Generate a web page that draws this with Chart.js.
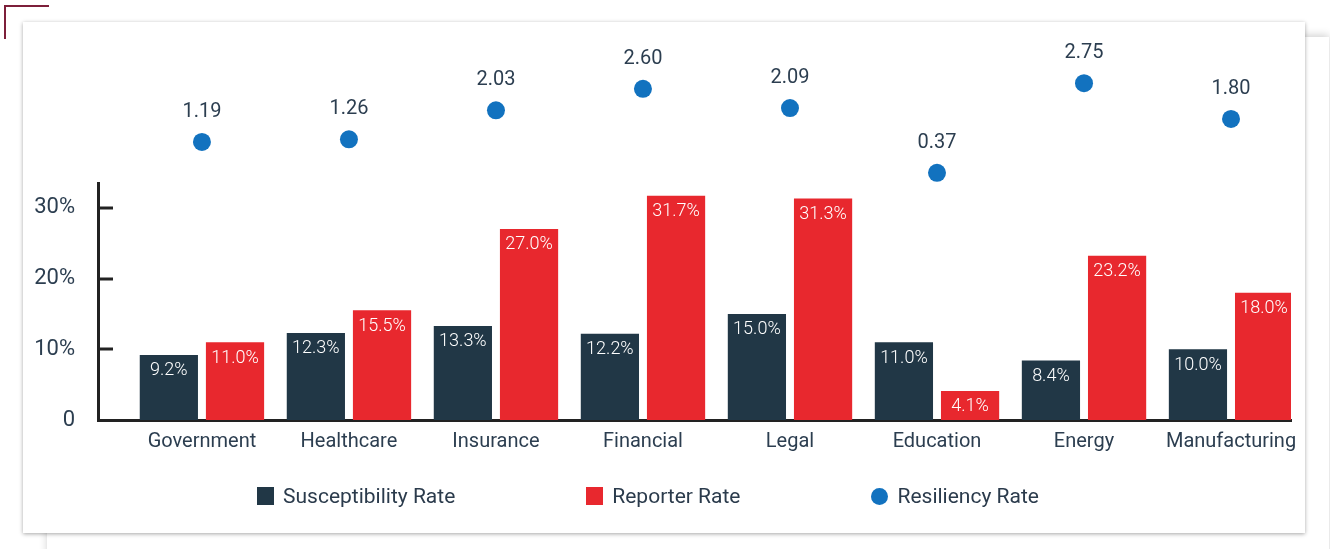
<!DOCTYPE html>
<html>
<head>
<meta charset="utf-8">
<script src="https://cdn.jsdelivr.net/npm/chart.js@4"></script>
<style>
  body { margin: 0; background: #fff; width: 1330px; height: 549px; overflow: hidden; position: relative; font-family: Roboto, sans-serif; }
  .corner { position: absolute; left: 4px; top: 5px; width: 43px; height: 32px; border-top: 2px solid #7d1f3a; border-left: 2px solid #7d1f3a; }
  .back { position: absolute; left: 47px; top: 37px; width: 1282px; height: 560px; background: #fff; box-shadow: 0 -2px 8px rgba(0,0,0,0.18); }
  .card { position: absolute; left: 23px; top: 22px; width: 1282px; height: 511px; background: #fff; box-shadow: 0 1px 4px rgba(0,0,0,0.35); }
  .card canvas { position: absolute; left: 0; top: 0; }
  #legend { position: absolute; left: 234px; top: 462px; display: flex; align-items: center; gap: 131px; color: #2b3b4c; font-size: 21px; }
  #legend .item { display: flex; align-items: center; }
  #legend .mark { width: 17px; height: 18px; margin-right: 9px; }
</style>
</head>
<body>
<div class="corner"></div>
<div class="back"></div>
<div class="card">
  <canvas id="chart" width="1282" height="511"></canvas>
  <div id="legend"></div>
</div>
<script>
// ---------- data ----------
const categories = ['Government', 'Healthcare', 'Insurance', 'Financial', 'Legal', 'Education', 'Energy', 'Manufacturing'];
const susceptibility = [9.2, 12.3, 13.3, 12.2, 15.0, 11.0, 8.4, 10.0];
const reporter = [11.0, 15.5, 27.0, 31.7, 31.3, 4.1, 23.2, 18.0];
const resiliency = [1.19, 1.26, 2.03, 2.60, 2.09, 0.37, 2.75, 1.80];
const yTicks = [0, 10, 20, 30];

const TEXT = '#2c3e50';
const AXIS = '#222';

const toPoints = arr => arr.map((v, i) => ({ x: i, y: v }));

// value labels on bars and dots
const valueLabels = {
  id: 'valueLabels',
  afterDatasetsDraw(chart) {
    const ctx = chart.ctx;
    ctx.save();
    ctx.textAlign = 'center';
    ctx.textBaseline = 'middle';
    chart.data.datasets.forEach((ds, di) => {
      const meta = chart.getDatasetMeta(di);
      meta.data.forEach((el, i) => {
        const v = ds.data[i].y;
        if (ds.type === 'line') {
          ctx.font = '20px Roboto';
          ctx.fillStyle = TEXT;
          ctx.fillText(v.toFixed(2), el.x, el.y - 30);
        } else {
          ctx.font = '300 18px Roboto';
          ctx.fillStyle = '#fff';
          ctx.fillText(v.toFixed(1) + '%', el.x, el.y + 16);
        }
      });
    });
    ctx.restore();
  }
};

// short tick marks pointing into the plot
const innerTicks = {
  id: 'innerTicks',
  afterDraw(chart) {
    const y = chart.scales.y;
    const ctx = chart.ctx;
    ctx.save();
    ctx.strokeStyle = AXIS;
    ctx.lineWidth = 3;
    y.ticks.forEach(t => {
      if (t.value === 0) return;
      const py = Math.round(y.getPixelForValue(t.value));
      ctx.beginPath();
      ctx.moveTo(y.right, py);
      ctx.lineTo(y.right + 15, py);
      ctx.stroke();
    });
    ctx.restore();
  }
};

const chart = new Chart(document.getElementById('chart'), {
  type: 'bar',
  data: {
    datasets: [
      {
        label: 'Susceptibility Rate',
        data: toPoints(susceptibility),
        backgroundColor: '#213746',
        categoryPercentage: 0.9,
        barPercentage: 0.88,
        yAxisID: 'y'
      },
      {
        label: 'Reporter Rate',
        data: toPoints(reporter),
        backgroundColor: '#e8282e',
        categoryPercentage: 0.9,
        barPercentage: 0.88,
        yAxisID: 'y'
      },
      {
        type: 'line',
        label: 'Resiliency Rate',
        data: toPoints(resiliency),
        showLine: false,
        pointRadius: 9,
        pointHoverRadius: 9,
        pointBackgroundColor: '#1272bf',
        pointBorderWidth: 0,
        backgroundColor: '#1272bf',
        borderColor: '#1272bf',
        yAxisID: 'y2'
      }
    ]
  },
  options: {
    responsive: false,
    animation: false,
    events: [],
    layout: { padding: { top: 48, right: 14, bottom: 73, left: 0 } },
    plugins: {
      legend: { display: false },
      tooltip: { enabled: false }
    },
    scales: {
      x: {
        type: 'linear',
        offset: false,
        min: -0.707,
        max: 7.408,
        grid: { display: false },
        border: { display: true, color: AXIS, width: 3 },
        afterBuildTicks: s => { s.ticks = categories.map((c, i) => ({ value: i })); },
        afterFit: s => { s.height = 40; },
        ticks: {
          autoSkip: false,
          maxRotation: 0,
          padding: 2,
          color: TEXT,
          font: { family: 'Roboto', size: 20 },
          callback: v => categories[v]
        }
      },
      y: {
        position: 'left',
        stack: 'v',
        stackWeight: 237,
        min: 0,
        max: 33.5,
        grid: { display: false },
        border: { display: true, color: AXIS, width: 3 },
        afterBuildTicks: s => { s.ticks = yTicks.map(v => ({ value: v })); },
        afterFit: s => { s.width = 75; },
        ticks: {
          padding: 15,
          color: TEXT,
          font: { family: 'Roboto', size: 22 },
          callback: v => v === 0 ? '0' : v + '%'
        }
      },
      y2: {
        position: 'left',
        stack: 'v',
        stackWeight: 113,
        display: false,
        min: 0.1,
        max: 3.1
      }
    }
  },
  plugins: [valueLabels, innerTicks]
});

// ---------- legend ----------
const legend = document.getElementById('legend');
chart.data.datasets.forEach(ds => {
  const item = document.createElement('div');
  item.className = 'item';
  const mark = document.createElement('span');
  mark.className = 'mark';
  mark.style.background = ds.backgroundColor;
  if (ds.type === 'line') { mark.style.borderRadius = '50%'; mark.style.height = '17px'; }
  const txt = document.createElement('span');
  txt.textContent = ds.label;
  item.appendChild(mark);
  item.appendChild(txt);
  legend.appendChild(item);
});
</script>
</body>
</html>
